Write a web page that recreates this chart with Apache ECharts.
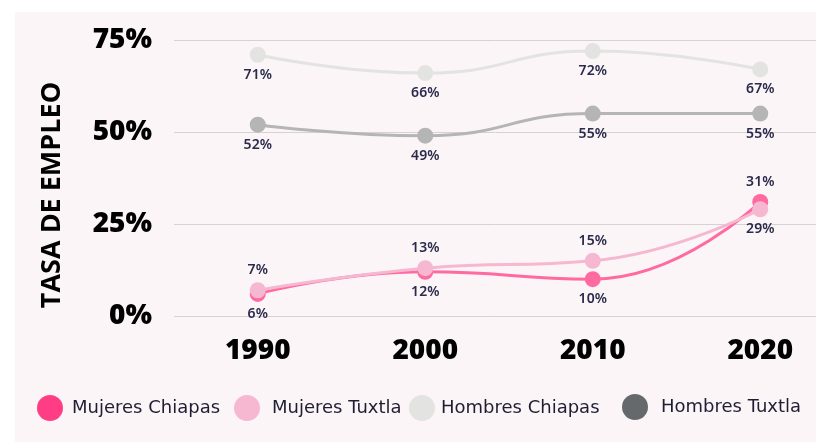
<!DOCTYPE html>
<html>
<head>
<meta charset="utf-8">
<script src="https://cdn.jsdelivr.net/npm/echarts@6/dist/echarts.min.js"></script>
<style>
  html, body { margin: 0; padding: 0; background: #fff; }
  #chart { width: 816px; height: 442px; }
</style>
</head>
<body>
<div id="chart"></div>
<script>
// datos
var years = ['1990', '2000', '2010', '2020']
var mujeresChiapas = [6, 12, 10, 31]
var mujeresTuxtla = [7, 13, 15, 29]
var hombresChiapas = [71, 66, 72, 67]
var hombresTuxtla = [52, 49, 55, 55]

// donde va cada etiqueta (estilo, no datos)
var posMujeresChiapas = ['bottom', 'bottom', 'bottom', 'top']
var posMujeresTuxtla = ['top', 'top', 'top', 'bottom']

var labelFont = { fontFamily: 'Noto Sans', fontWeight: 600, fontSize: 14, color: '#2b2a4c' }
var legendFont = { fontFamily: 'DejaVu Sans', fontSize: 18, color: '#1f1d33' }
var tickFont = { fontFamily: 'Open Sans', fontWeight: 800, fontSize: 28, color: '#000' }

function withPos(values, pos) {
  return values.map(function (v, i) {
    return { value: v, label: { position: pos[i] } }
  })
}

function makeSeries(name, data, color, pos) {
  return {
    name: name,
    type: 'line',
    smooth: true,
    symbol: 'circle',
    symbolSize: 16,
    data: pos ? withPos(data, pos) : data,
    itemStyle: { color: color },
    lineStyle: { color: color, width: 3 },
    label: Object.assign({ show: true, position: 'bottom', distance: 5, formatter: '{c}%' }, labelFont),
    emphasis: { disabled: true }
  }
}

function oneLegend(name, color, left, top, pad) {
  return {
    data: [{ name: name, itemStyle: { color: color } }],
    left: left,
    top: top,
    padding: 0,
    icon: 'circle',
    itemWidth: 26,
    itemHeight: 26,
    selectedMode: false,
    textStyle: Object.assign({ padding: pad }, legendFont)
  }
}

var chart = echarts.init(document.getElementById('chart'))
chart.setOption({
  animation: false,
  graphic: [{
    type: 'rect',
    z: -10,
    shape: { x: 15, y: 12, width: 801, height: 430 },
    style: { fill: '#fcf5f7' }
  }, {
    type: 'text',
    x: 52,
    y: 195,
    rotation: Math.PI / 2,
    style: {
      text: 'TASA DE EMPLEO',
      fontFamily: 'Open Sans',
      fontWeight: 700,
      fontSize: 27,
      fill: '#000',
      align: 'center',
      verticalAlign: 'middle'
    }
  }],
  grid: { left: 174, top: 40, width: 670, height: 276, outerBoundsMode: 'none', containLabel: false },
  xAxis: {
    type: 'category',
    data: years,
    axisLine: { show: false },
    axisTick: { show: false },
    axisLabel: Object.assign({ margin: 21 }, tickFont)
  },
  yAxis: {
    type: 'value',
    min: 0,
    max: 75,
    interval: 25,
    axisLabel: Object.assign({ margin: 22, formatter: '{value}%', padding: [3, 0, 0, 0] }, tickFont),
    splitLine: { lineStyle: { color: '#d6d2d4', width: 1 } }
  },
  legend: [
    oneLegend('Mujeres Chiapas', '#ff3d85', 37, 395, [0, 0, 0, 4]),
    oneLegend('Mujeres Tuxtla', '#f5b8d0', 234, 395, [0, 0, 0, 7]),
    oneLegend('Hombres Chiapas', '#e3e3e1', 409, 395, [0, 0, 0, 1]),
    oneLegend('Hombres Tuxtla', '#66696b', 622, 394, [0, 0, 10, 8])
  ],
  series: [
    makeSeries('Hombres Chiapas', hombresChiapas, '#e3e3e1'),
    makeSeries('Hombres Tuxtla', hombresTuxtla, '#b5b5b5'),
    makeSeries('Mujeres Chiapas', mujeresChiapas, '#ff6aa0', posMujeresChiapas),
    makeSeries('Mujeres Tuxtla', mujeresTuxtla, '#f5b8d0', posMujeresTuxtla)
  ]
})
</script>
</body>
</html>
